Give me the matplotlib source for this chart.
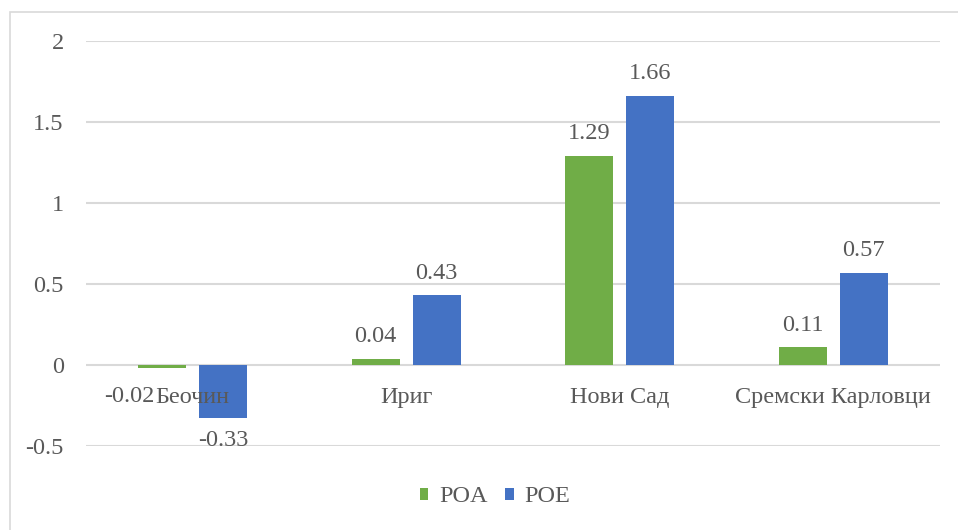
import matplotlib
matplotlib.use("Agg")
import matplotlib.pyplot as plt
from matplotlib.patches import Rectangle
import numpy as np

# municipalities and their return ratios
municipalities = ['Беочин', 'Ириг', 'Нови Сад', 'Сремски Карловци']
poa = [-0.02, 0.04, 1.29, 0.11]
poe = [-0.33, 0.43, 1.66, 0.57]
yticks = [-0.5, 0, 0.5, 1, 1.5, 2]
ytick_labels = ['-0.5', '0', '0.5', '1', '1.5', '2']

plt.rcParams['font.family'] = ['Liberation Serif', 'DejaVu Serif']
plt.rcParams['axes.unicode_minus'] = False

text_color = '#595959'
grid_color = '#d9d9d9'
green = '#70ad47'
blue = '#4472c4'
fs = 17.5

fig = plt.figure(figsize=(9.58, 5.30), dpi=100)
ax = fig.add_axes([0.0898, 0.1585, 0.8914, 0.7641])

# chart frame
fig.patches.append(Rectangle((10 / 958, -0.2), 1.2, 1.2 - 12 / 530,
                             transform=fig.transFigure, fill=False,
                             edgecolor=grid_color, linewidth=1.2))

x = np.arange(len(municipalities))
width = 0.225
off = 0.143
b1 = ax.bar(x - off, poa, width, color=green, label='POA', zorder=3)
b2 = ax.bar(x + off, poe, width, color=blue, label='POE', zorder=3)

ax.set_xlim(-0.5, len(municipalities) - 0.5)
ax.set_ylim(-0.5, 2)
ax.set_yticks(yticks)
ax.set_yticklabels(ytick_labels)
ax.tick_params(axis='y', length=0, pad=16, labelsize=fs, labelcolor=text_color)
ax.set_xticks([])
for s in ax.spines.values():
    s.set_visible(False)
ax.yaxis.grid(True, color=grid_color, linewidth=1.5, zorder=0)

# value labels
for bars, vals, series in [(b1, poa, 'poa'), (b2, poe, 'poe')]:
    for bar, v in zip(bars, vals):
        cx = bar.get_x() + bar.get_width() / 2
        if v >= 0:
            dx, dy = 0, 12
        elif series == 'poa':
            dx, dy = -24, -24
        else:
            dx, dy = 0, -19.5
        ax.annotate(f'{v:.2f}', (cx, v), xytext=(dx, dy), textcoords='offset points',
                    ha='center', va='baseline', fontsize=fs, color=text_color)

# category names sit on the zero line
for i, name in enumerate(municipalities):
    ax.annotate(name, (i, 0), xytext=(0, -27), textcoords='offset points',
                ha='center', va='baseline', fontsize=fs, color=text_color, zorder=4)

leg = fig.legend(handles=[b1, b2], labels=['POA', 'POE'], loc='center',
                 bbox_to_anchor=(495 / 958, 1 - 497 / 530), ncol=2, frameon=False,
                 fontsize=fs, handlelength=0.36, handleheight=0.36,
                 handletextpad=0.45, columnspacing=0.7)
for t in leg.get_texts():
    t.set_color(text_color)

fig.savefig('out.png', dpi=100)
